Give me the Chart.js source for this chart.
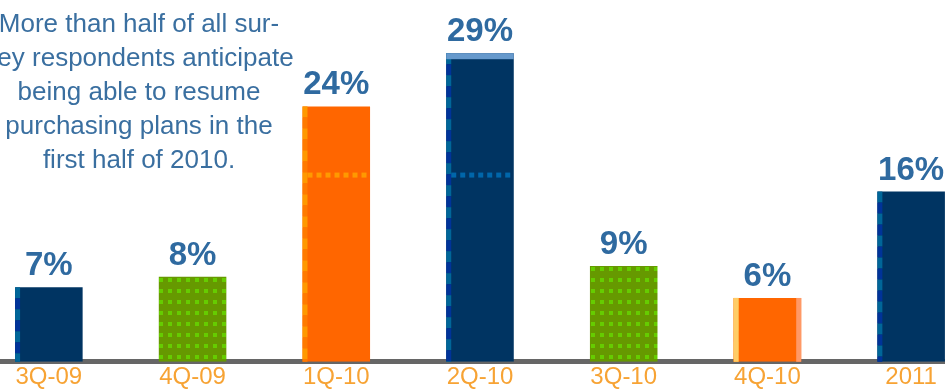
<!DOCTYPE html>
<html>
<head>
<meta charset="utf-8">
<script src="https://cdn.jsdelivr.net/npm/chart.js@4.4.0/dist/chart.umd.min.js"></script>
<style>
  html, body { margin: 0; padding: 0; background: #ffffff; overflow: hidden; }
  #wrap { position: absolute; left: -23px; top: 0; width: 1006px; height: 393px; }
</style>
</head>
<body>
<div id="wrap"><canvas id="myChart"></canvas></div>
<script>
const periods = ["3Q-09", "4Q-09", "1Q-10", "2Q-10", "3Q-10", "4Q-10", "2011"];
const shares = [7, 8, 24, 29, 9, 6, 16];
const barKinds = ["navy", "green", "orange", "navy", "green", "orange", "navy"];
const noteLines = [
  "More than half of all sur-",
  "vey respondents anticipate",
  "being able to resume",
  "purchasing plans in the",
  "first half of 2010."
];

const ctx = document.getElementById("myChart");

// green bars get a grid of small light squares
function greenPattern() {
  const c = document.createElement("canvas");
  c.width = 9;
  c.height = 11;
  const g = c.getContext("2d");
  g.fillStyle = "#669900";
  g.fillRect(0, 0, 9, 11);
  g.fillStyle = "#66cc00";
  g.fillRect(2, 3, 4, 4);
  return g.createPattern(c, "repeat");
}

const fills = {
  navy: "#003462",
  green: greenPattern(),
  orange: "#ff6600",
};

const decor = {
  id: "decor",
  afterDatasetsDraw(chart) {
    const g = chart.ctx;
    const meta = chart.getDatasetMeta(0);
    const lineY = chart.scales.y.getPixelForValue(17.5);
    g.save();
    meta.data.forEach((bar, i) => {
      const kind = barKinds[i];
      const left = bar.x - bar.width / 2;
      const top = bar.y;
      const bottom = bar.base;
      if (kind === "navy" || kind === "orange") {
        // dashed stripe down the left edge
        const a = kind === "navy" ? "#006699" : "#ff9900";
        const b = kind === "navy" ? "#003399" : "#ff7a00";
        for (let y = top, k = 0; y < bottom; y += 11, k++) {
          g.fillStyle = k % 2 ? b : a;
          g.fillRect(left, y, 5, Math.min(11, bottom - y));
        }
        if (lineY > top && lineY < bottom) {
          g.fillStyle = kind === "navy" ? "#0066aa" : "#ff9900";
          for (let x = left + 5; x < left + bar.width - 3; x += 9) {
            g.fillRect(x, lineY - 3, 5, 5);
          }
        }
      }
      if (periods[i] === "2Q-10") {
        g.fillStyle = "#6699cc";
        g.fillRect(left, top, bar.width, 6);
      }
      if (periods[i] === "4Q-10") {
        g.fillStyle = "#ffcc66";
        g.fillRect(left, top, 5, bottom - top);
        g.fillStyle = "#ff9966";
        g.fillRect(left + bar.width - 5, top, 5, bottom - top);
      }
    });
    // value labels
    g.fillStyle = "#2f6aa0";
    g.font = "bold 33px 'Liberation Sans', Arial, sans-serif";
    g.textAlign = "center";
    g.textBaseline = "alphabetic";
    meta.data.forEach((bar, i) => {
      g.fillText(shares[i] + "%", bar.x, bar.y - 12);
    });
    // side note
    g.fillStyle = "#3a6fa0";
    g.font = "26px 'Liberation Sans', Arial, sans-serif";
    noteLines.forEach((t, i) => {
      g.fillText(t, 162, 32 + i * 34);
    });
    g.restore();
  },
};

new Chart(ctx, {
  type: "bar",
  data: {
    labels: periods,
    datasets: [
      {
        data: shares,
        backgroundColor: barKinds.map((k) => fills[k]),
        borderWidth: 0,
        barPercentage: 1,
        categoryPercentage: 0.47,
      },
    ],
  },
  options: {
    responsive: true,
    maintainAspectRatio: false,
    animation: false,
    layout: { padding: { top: 0, bottom: 0, left: 0, right: 0 } },
    plugins: {
      legend: { display: false },
      tooltip: { enabled: false },
    },
    scales: {
      x: {
        grid: { display: false, drawTicks: false },
        border: { display: true, color: "#666666", width: 5 },
        ticks: {
          color: "#f7a334",
          font: { family: "'Liberation Sans', Arial, sans-serif", size: 24, lineHeight: 0.8 },
          padding: 6,
        },
      },
      y: {
        display: false,
        min: 0,
        max: 34,
      },
    },
  },
  plugins: [decor],
});
</script>
</body>
</html>
